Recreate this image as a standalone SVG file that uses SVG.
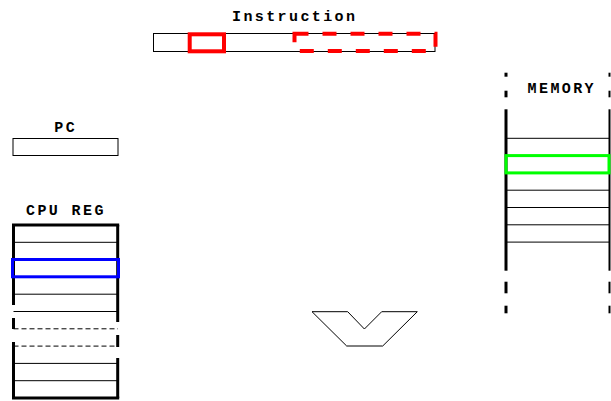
<svg xmlns="http://www.w3.org/2000/svg" width="611" height="401" viewBox="0 0 611 401">
<style>
.lbl{font-family:"Liberation Mono","DejaVu Sans Mono",monospace;font-weight:bold;font-size:15px;letter-spacing:2.4px;fill:#000}
.thin{fill:none;stroke:#000;stroke-width:1}
.wall{fill:none;stroke:#000;stroke-width:3}
.dash{fill:none;stroke:#000;stroke-width:1;stroke-dasharray:5 3}
</style>
<rect width="611" height="401" fill="#fff"/>
<g id="instruction">
<text class="lbl" x="232" y="21">Instruction</text>
<rect class="thin" x="153.5" y="33.5" width="281.5" height="18"/>
<rect x="189.7" y="34.3" width="34.3" height="17" fill="none" stroke="#ff0000" stroke-width="4"/>
<rect x="294.5" y="33.7" width="141" height="17.3" fill="none" stroke="#ff0000" stroke-width="4" stroke-dasharray="14 14"/>
</g>
<g id="pc">
<text class="lbl" x="54.3" y="132">PC</text>
<rect class="thin" x="13" y="138.5" width="105" height="17"/>
</g>
<g id="cpu-reg">
<text class="lbl" x="26" y="215">CPU REG</text>
<line class="wall" x1="12" y1="225" x2="119.2" y2="225"/>
<line class="wall" x1="12" y1="398" x2="119.2" y2="398"/>
<line class="wall" x1="13.5" y1="225" x2="13.5" y2="305"/>
<line class="wall" x1="13.5" y1="318" x2="13.5" y2="329"/>
<line class="wall" x1="13.5" y1="342" x2="13.5" y2="398"/>
<line class="wall" x1="117.7" y1="225" x2="117.7" y2="322"/>
<line class="wall" x1="117.7" y1="335" x2="117.7" y2="347"/>
<line class="wall" x1="117.7" y1="358" x2="117.7" y2="398"/>
<line class="thin" x1="13.5" y1="242.3" x2="117.7" y2="242.3"/>
<line class="thin" x1="13.5" y1="294.2" x2="117.7" y2="294.2"/>
<line class="thin" x1="13.5" y1="311.5" x2="117.7" y2="311.5"/>
<line class="dash" x1="13.5" y1="328.8" x2="118" y2="328.8"/>
<line class="dash" x1="13.5" y1="346.1" x2="118" y2="346.1"/>
<line class="thin" x1="13.5" y1="363.4" x2="117.7" y2="363.4"/>
<line class="thin" x1="13.5" y1="380.7" x2="117.7" y2="380.7"/>
<rect x="12.5" y="259.5" width="106" height="17.3" fill="none" stroke="#0000ff" stroke-width="3"/>
</g>
<g id="memory">
<text class="lbl" x="527.6" y="92.7">MEMORY</text>
<g class="wall">
<line x1="506" y1="72.7" x2="506" y2="76.7"/>
<line x1="506" y1="90.7" x2="506" y2="97.3"/>
<line x1="506" y1="109.3" x2="506" y2="270.7"/>
<line x1="506" y1="281.7" x2="506" y2="293.3"/>
<line x1="506" y1="305.7" x2="506" y2="313.3"/>
</g>
<g fill="none" stroke="#000" stroke-width="2">
<line x1="609.5" y1="72.7" x2="609.5" y2="76.7"/>
<line x1="609.5" y1="90.7" x2="609.5" y2="97.3"/>
<line x1="609.5" y1="109.3" x2="609.5" y2="270.7"/>
<line x1="609.5" y1="281.7" x2="609.5" y2="293.3"/>
<line x1="609.5" y1="305.7" x2="609.5" y2="313.3"/>
</g>
<line class="thin" x1="506" y1="138.3" x2="609.5" y2="138.3"/>
<line class="thin" x1="506" y1="190.2" x2="609.5" y2="190.2"/>
<line class="thin" x1="506" y1="207.5" x2="609.5" y2="207.5"/>
<line class="thin" x1="506" y1="224.8" x2="609.5" y2="224.8"/>
<line class="thin" x1="506" y1="242.1" x2="609.5" y2="242.1"/>
<rect x="506" y="155.6" width="103" height="17.3" fill="none" stroke="#00ff00" stroke-width="3"/>
</g>
<g id="connectors">
<polygon class="thin" points="312,311.7 347.7,311.7 364.4,329 381.7,311.7 417.3,311.7 382.7,346 346.7,346"/>
</g>
</svg>
